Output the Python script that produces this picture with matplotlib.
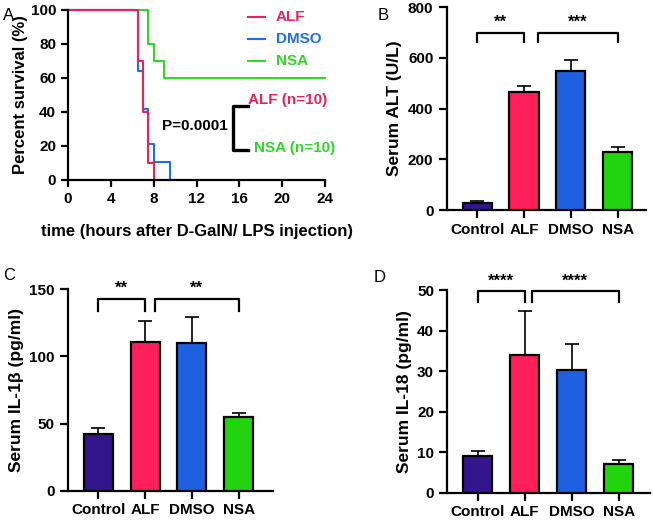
import matplotlib
matplotlib.use("Agg")
import matplotlib.pyplot as plt
import numpy as np

plt.rcParams["font.family"] = ["Liberation Sans", "DejaVu Sans"]
plt.rcParams["font.weight"] = "bold"
plt.rcParams["axes.linewidth"] = 1.6

# survival data (time in hours, percent survival)
alf_t = [0, 6.5, 7.0, 7.5, 8.0]
alf_s = [100, 70, 40, 10, 0]
dmso_t = [0, 6.5, 7.0, 7.5, 8.0, 9.5]
dmso_s = [100, 64, 42, 21, 10.5, 0]
nsa_t = [0, 7.5, 8.0, 9.0, 24]
nsa_s = [100, 80, 70, 60, 60]

groups = ["Control", "ALF", "DMSO", "NSA"]
colors = ["#34168c", "#ff1f5a", "#1f60e0", "#22d40e"]
line_colors = ["#e6245a", "#1f6fe8", "#33d62a"]

alt_mean = [27, 465, 550, 230]
alt_err = [8, 25, 42, 18]
il1b_mean = [42.6, 110.4, 110, 55]
il1b_err = [4.5, 15.8, 19, 3]
il18_mean = [9.0, 34.0, 30.2, 7.2]
il18_err = [1.4, 10.9, 6.4, 0.9]

fig = plt.figure(figsize=(6.53, 5.2), dpi=100)


def bold_ticks(a):
    for lbl in a.get_xticklabels() + a.get_yticklabels():
        lbl.set_fontweight("bold")


# ---- panel A: survival
ax = fig.add_axes([0.104, 0.654, 0.394, 0.327])
curves = [(dmso_t, dmso_s, line_colors[1]), (nsa_t, nsa_s, line_colors[2]),
          (alf_t, alf_s, line_colors[0])]
for t, s, c in curves:
    ax.step(t, s, where="post", color=c, lw=1.5, clip_on=False)
ax.set_xlim(0, 24)
ax.set_ylim(0, 100)
ax.set_xticks(np.arange(0, 25, 4))
ax.set_yticks(np.arange(0, 101, 20))
ax.spines[["top", "right"]].set_visible(False)
ax.tick_params(width=1.6, length=5, labelsize=11)
bold_ticks(ax)
ax.set_xlabel("time (hours after D-GalN/ LPS injection)", fontsize=12,
              fontweight="bold", labelpad=13)
ax.set_ylabel("Percent survival (%)", fontsize=12, fontweight="bold",
              labelpad=2)
names = ["ALF", "DMSO", "NSA"]
for i, (n, c) in enumerate(zip(names, line_colors)):
    y = 96 - i * 13
    ax.plot([16.8, 18.4], [y, y], color=c, lw=1.5)
    ax.text(19.4, y, n, color=c, fontsize=11, fontweight="bold", va="center")
ax.text(8.75, 31.8, "P=0.0001", fontsize=11, fontweight="bold", va="center")
ax.plot([16.8, 15.4, 15.4, 16.8], [43.5, 43.5, 17.6, 17.6], color="black",
        lw=2.4)
ax.text(16.8, 47, "ALF (n=10)", color=line_colors[0], fontsize=11,
        fontweight="bold", va="center")
ax.text(17.4, 19, "NSA (n=10)", color=line_colors[2], fontsize=11,
        fontweight="bold", va="center")


def bar_panel(rect, means, errs, ylim, yticks, ylabel, brackets, xright):
    a = fig.add_axes(rect)
    x = np.arange(len(groups))
    a.bar(x, means, width=0.62, color=colors, edgecolor="black", linewidth=1.6,
          zorder=3)
    a.errorbar(x, means, yerr=[np.zeros(len(errs)), errs], fmt="none",
               ecolor="black", elinewidth=1.2, capsize=5, capthick=1.2, zorder=2)
    a.set_xlim(-0.65, xright)
    a.set_ylim(*ylim)
    a.set_yticks(yticks)
    a.set_xticks(x)
    a.set_xticklabels(groups)
    a.spines[["top", "right"]].set_visible(False)
    a.tick_params(width=1.6, length=6, labelsize=11)
    a.tick_params(axis="x", pad=3)
    bold_ticks(a)
    a.set_ylabel(ylabel, fontsize=12.5, fontweight="bold")
    for x0, x1, ytop, ybot, lab in brackets:
        a.plot([x0, x0, x1, x1], [ybot, ytop, ytop, ybot], color="black",
               lw=1.6, clip_on=False)
        a.text((x0 + x1) / 2, ytop + (ylim[1] - ylim[0]) * 0.015, lab,
               ha="center", va="bottom", fontsize=12, fontweight="bold")
    return a


bar_panel([0.684, 0.596, 0.305, 0.390], alt_mean, alt_err, (0, 800),
          [0, 200, 400, 600, 800], "Serum ALT (U/L)",
          [(0, 1, 700, 662, "**"), (1.3, 3, 700, 662, "***")], 3.6)
bar_panel([0.104, 0.056, 0.314, 0.388], il1b_mean, il1b_err, (0, 150),
          [0, 50, 100, 150], "Serum IL-1\u03b2 (pg/ml)",
          [(0, 1, 142.6, 133.7, "**"), (1.2, 3, 142.6, 133.7, "**")], 3.73)
bar_panel([0.685, 0.0525, 0.31, 0.3895], il18_mean, il18_err, (0, 50),
          [0, 10, 20, 30, 40, 50], "Serum IL-18 (pg/ml)",
          [(0, 1, 49.7, 47, "****"), (1.15, 3, 49.7, 47, "****")], 3.66)

for lab, x, y in [("A", 0.005, 0.985), ("B", 0.578, 0.985),
                  ("C", 0.005, 0.485), ("D", 0.572, 0.48)]:
    fig.text(x, y, lab, fontsize=12, fontweight="normal", va="top")

fig.savefig("out.png", dpi=100)
